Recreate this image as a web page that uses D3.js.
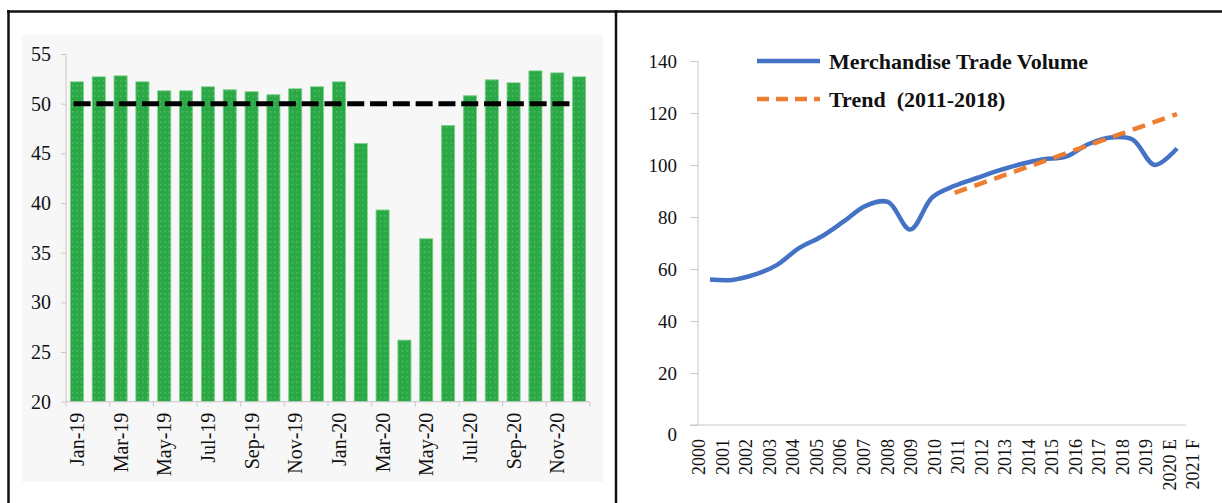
<!DOCTYPE html>
<html>
<head>
<meta charset="utf-8">
<script src="https://cdn.jsdelivr.net/npm/d3@7"></script>
<style>
  body { margin: 0; background: #fff; }
  text { font-family: "Liberation Serif", "Times New Roman", serif; fill: #111; }
</style>
</head>
<body>
<svg id="chart" width="1222" height="503"></svg>
<script>
// ---- Left panel: monthly index, Jan-19 .. Dec-20 ----
const months = ["Jan-19","Feb-19","Mar-19","Apr-19","May-19","Jun-19","Jul-19","Aug-19","Sep-19","Oct-19","Nov-19","Dec-19",
                "Jan-20","Feb-20","Mar-20","Apr-20","May-20","Jun-20","Jul-20","Aug-20","Sep-20","Oct-20","Nov-20","Dec-20"];
const pmiValues = [52.2,52.7,52.8,52.2,51.3,51.3,51.7,51.4,51.2,50.9,51.5,51.7,
                   52.2,46.0,39.3,26.2,36.4,47.8,50.8,52.4,52.1,53.3,53.1,52.7];
const pmiTicks = [20,25,30,35,40,45,50,55];
const threshold = 50;

// ---- Right panel: merchandise trade volume and its 2011-2018 trend ----
const years = ["2000","2001","2002","2003","2004","2005","2006","2007","2008","2009","2010",
               "2011","2012","2013","2014","2015","2016","2017","2018","2019","2020 E","2021 F"];
const tradeVolume = [56.0,55.8,57.8,61.5,68.0,72.4,78.2,84.3,85.8,75.2,87.6,
                     92.0,95.0,97.9,100.4,102.2,103.2,108.0,110.6,109.8,100.0,106.4];
const trendYears = ["2011","2021 F"];
const trendValues = [89.3,119.6];
const volumeTicks = [0,20,40,60,80,100,120,140];
const legendLabels = ["Merchandise Trade Volume","Trend  (2011-2018)"];

const svg = d3.select("#chart");
const axisGrey = "#c8c8c8";

// outer frame
const frame = svg.append("g").attr("stroke", "#111").attr("stroke-width", 2.5);
frame.append("line").attr("x1", 7).attr("x2", 1222).attr("y1", 11.5).attr("y2", 11.5);
frame.append("line").attr("x1", 8.5).attr("x2", 8.5).attr("y1", 10).attr("y2", 503);
frame.append("line").attr("x1", 616).attr("x2", 616).attr("y1", 10).attr("y2", 503);

// ================= left panel =================
const defs = svg.append("defs");
const pat = defs.append("pattern").attr("id", "dotted").attr("patternUnits", "userSpaceOnUse")
  .attr("width", 4.4).attr("height", 5.2);
pat.append("rect").attr("width", 4.4).attr("height", 5.2).attr("fill", "#2aa845");
pat.append("circle").attr("cx", 2.2).attr("cy", 2.6).attr("r", 0.7).attr("fill", "#86d493").attr("opacity", 0.8);

svg.append("rect").attr("x", 22).attr("y", 35).attr("width", 581).attr("height", 447).attr("fill", "#f7f7f7");

const xL = d3.scaleBand().domain(months).range([66, 590]).paddingInner(0.4).paddingOuter(0.2);
const yL = d3.scaleLinear().domain([20, 55]).range([401.7, 54]);

// y axis
const gyL = svg.append("g").attr("transform", "translate(66,0)")
  .call(d3.axisLeft(yL).tickValues(pmiTicks).tickSize(5).tickPadding(10));
gyL.select(".domain").attr("stroke", axisGrey).attr("d", `M0,${yL(20)}V${yL(55)}`);
gyL.selectAll(".tick line").attr("stroke", axisGrey);
gyL.selectAll(".tick text").style("font-size", "20px").attr("fill", "#111");

// bars
svg.append("g").selectAll("rect").data(months).join("rect")
  .attr("x", d => xL(d))
  .attr("width", xL.bandwidth())
  .attr("y", (d, i) => yL(pmiValues[i]))
  .attr("height", (d, i) => yL(20) - yL(pmiValues[i]))
  .attr("fill", "url(#dotted)")
  .attr("stroke", "#7fcf8b").attr("stroke-width", 0.8);

// x axis
const gxL = svg.append("g").attr("transform", `translate(0,${yL(20)})`);
gxL.append("line").attr("x1", 66).attr("x2", 590).attr("stroke", axisGrey);
const tickPos = months.filter((d, i) => i % 2 === 0).map(d => xL(d) - xL.step() * xL.paddingInner() / 2).concat([590]);
gxL.selectAll(".tk").data(tickPos).join("line").attr("class", "tk")
  .attr("x1", d => d).attr("x2", d => d).attr("y1", 0).attr("y2", 5).attr("stroke", axisGrey);
gxL.selectAll("text").data(months.filter((d, i) => i % 2 === 0)).join("text")
  .attr("transform", d => `translate(${xL(d) + xL.bandwidth() / 2},11) rotate(-90)`)
  .attr("text-anchor", "end").attr("dy", "0.35em")
  .style("font-size", "20px")
  .text(d => d);

// 50 threshold line
svg.append("line")
  .attr("x1", xL(months[0]) + xL.bandwidth() * 0.25)
  .attr("x2", xL(months[months.length - 1]))
  .attr("y1", yL(threshold)).attr("y2", yL(threshold))
  .attr("stroke", "#000").attr("stroke-width", 5).attr("stroke-dasharray", "17,5.8");

// ================= right panel =================
const xPts = d3.scalePoint().domain(years).range([710, 1177]);
const xLab = d3.scalePoint().domain(years).range([699, 1193]);
const yR = d3.scaleLinear().domain([0, 140]).range([425, 61]);

const gyR = svg.append("g").attr("transform", "translate(698,0)")
  .call(d3.axisLeft(yR).tickValues(volumeTicks).tickSize(8).tickPadding(13));
gyR.select(".domain").attr("stroke", axisGrey).attr("d", `M0,${yR(0)}V${yR(140)}`);
gyR.selectAll(".tick line").attr("stroke", axisGrey);
gyR.selectAll(".tick text").style("font-size", "19px").attr("fill", "#111")
  .attr("dy", d => d === 0 ? "0.8em" : "0.32em");

const gxR = svg.append("g").attr("transform", `translate(0,${yR(0)})`);
gxR.append("line").attr("x1", 690).attr("x2", 1186).attr("stroke", axisGrey);
gxR.selectAll("text").data(years).join("text")
  .attr("transform", d => `translate(${xLab(d)},14) rotate(-90)`)
  .attr("text-anchor", "end").attr("dy", "0.35em")
  .style("font-size", "18px")
  .text(d => d);

const line = d3.line().x(d => xPts(d[0])).y(d => yR(d[1])).curve(d3.curveCatmullRom.alpha(0.5));
svg.append("path")
  .attr("d", line(years.map((y, i) => [y, tradeVolume[i]])))
  .attr("fill", "none").attr("stroke", "#4472c4").attr("stroke-width", 4.5).attr("stroke-linejoin", "round");

svg.append("path")
  .attr("d", d3.line().x(d => xPts(d[0])).y(d => yR(d[1]))(trendYears.map((y, i) => [y, trendValues[i]])))
  .attr("fill", "none").attr("stroke", "#ed7d31").attr("stroke-width", 4.5).attr("stroke-dasharray", "13,8");

// legend
const legend = svg.append("g");
const legendRows = [
  { label: legendLabels[0], color: "#4472c4", dash: null, y: 61 },
  { label: legendLabels[1], color: "#ed7d31", dash: "12,7", y: 99 }
];
legendRows.forEach(r => {
  legend.append("line").attr("x1", 757).attr("x2", 820).attr("y1", r.y).attr("y2", r.y)
    .attr("stroke", r.color).attr("stroke-width", 4.5).attr("stroke-dasharray", r.dash);
  legend.append("text").attr("x", 829).attr("y", r.y).attr("dy", "0.35em")
    .style("font-size", "22px").style("font-weight", "bold").style("white-space", "pre")
    .text(r.label);
});
</script>
</body>
</html>
